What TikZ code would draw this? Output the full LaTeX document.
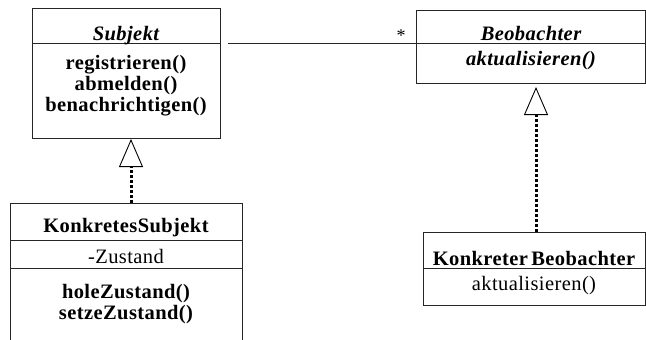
\documentclass[tikz,border=0pt]{standalone}
\usepackage{fontspec}
\setmainfont{Liberation Serif}
\usetikzlibrary{arrows.meta}
\begin{document}
\begin{tikzpicture}[x=1pt,y=-1pt,
  box/.style={draw=black!85, line width=0.9pt},
  txt/.style={inner sep=0pt, anchor=base, font=\fontsize{20.5}{21}\selectfont\addfontfeatures{LetterSpace=2}},
  btxt/.style={txt, font=\fontsize{20.5}{21}\selectfont\bfseries\addfontfeatures{LetterSpace=2}},
  bitxt/.style={txt, font=\fontsize{20.5}{21}\selectfont\bfseries\itshape\addfontfeatures{LetterSpace=2}},
  realize/.style={line width=3pt, dash pattern=on 3pt off 2pt,
    -{Triangle[open, length=28pt, width=24pt, line width=0.9pt]}},
  assoc/.style={line width=0.9pt, draw=black!85}]
\useasboundingbox (0,0) rectangle (646,340);
\begin{scope}
\clip (0,0) rectangle (646,340);
% Subjekt
\node[box, minimum width=188pt, minimum height=130pt, anchor=north west, inner sep=0pt] (subj) at (32,8) {};
\draw[box] (32,43) -- (220,43);
\node[bitxt] (subjT) at (126,41) {Subjekt};
\node[btxt] (subjM1) at (126,69) {registrieren()};
\node[btxt] (subjM2) at (126,90) {abmelden()};
\node[btxt] (subjM3) at (126,111) {benachrichtigen()};
% KonkretesSubjekt
\node[box, minimum width=232pt, minimum height=160pt, anchor=north west, inner sep=0pt] (ks) at (10,203) {};
\draw[box] (10,240) -- (242,240);
\draw[box] (10,268) -- (242,268);
\node[btxt] (ksT) at (126,232) {KonkretesSubjekt};
\node[txt] (ksA) at (126,263) {-Zustand};
\node[btxt] (ksM1) at (126,298) {holeZustand()};
\node[btxt] (ksM2) at (126,319) {setzeZustand()};
% Beobachter
\node[box, minimum width=229pt, minimum height=73pt, anchor=north west, inner sep=0pt] (beo) at (416,10) {};
\draw[box] (416,43) -- (645,43);
\node[bitxt] (beoT) at (531,41) {Beobachter};
\node[bitxt] (beoM) at (531,65) {aktualisieren()};
% KonkreterBeobachter
\node[box, minimum width=222pt, minimum height=73pt, anchor=north west, inner sep=0pt] (kb) at (423,232) {};
\draw[box] (423,268) -- (645,268);
\node[btxt] (kbT) at (534,265) {Konkreter\,Beobachter};
\node[txt] (kbM) at (534,290) {aktualisieren()};
% connectors
\coordinate (assocStart) at (228,43);
\draw[assoc] (assocStart) -- (beo.west |- assocStart);
\node[font=\fontsize{18}{18}\selectfont, inner sep=0pt] (mult) at (401,36) {*};
\coordinate (ksTop) at (131,203);
\coordinate (subjBot) at (131,139);
\draw[realize] (ksTop) -- (subjBot);
\coordinate (kbTop) at (536,232);
\coordinate (beoBot) at (536,87);
\draw[realize] (kbTop) -- (beoBot);
\end{scope}
\end{tikzpicture}
\end{document}
